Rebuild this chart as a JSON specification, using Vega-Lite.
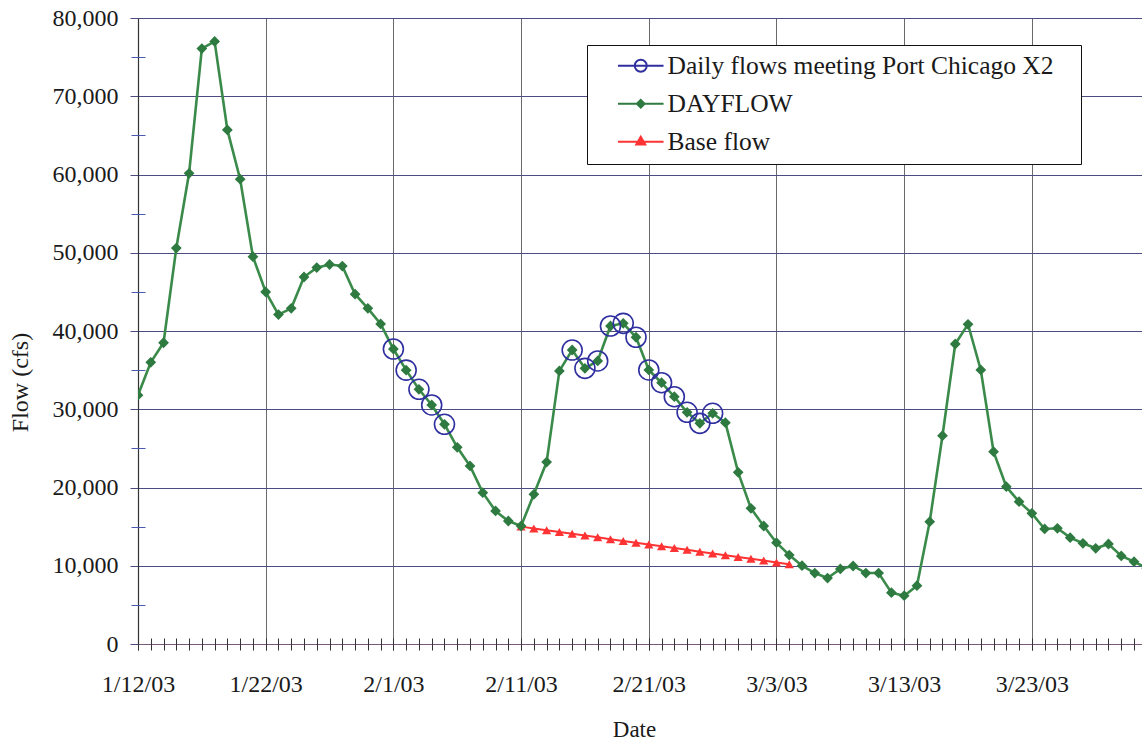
{
  "$schema": "https://vega.github.io/schema/vega-lite/v6.json",
  "width": 1004,
  "height": 626,
  "autosize": {"type": "none"},
  "padding": {"left": 138, "top": 18, "right": 0, "bottom": 96},
  "background": "white",
  "config": {
    "view": {"stroke": null},
    "font": "Liberation Serif",
    "axis": {
      "labelFont": "Liberation Serif",
      "labelFontSize": 24,
      "labelColor": "#1a1a1a",
      "titleFont": "Liberation Serif",
      "titleFontSize": 24,
      "titleFontWeight": "normal",
      "titleColor": "#1a1a1a",
      "labelFlush": false,
      "labelOverlap": false
    },
    "legend": {
      "orient": "none",
      "legendX": 449,
      "legendY": 27,
      "direction": "vertical",
      "fillColor": "white",
      "strokeColor": "#111111",
      "padding": 8,
      "rowPadding": 11,
      "symbolSize": 144,
      "symbolStrokeWidth": 2,
      "symbolOpacity": 1,
      "symbolOffset": 33,
      "labelOffset": 14,
      "labelFont": "Liberation Serif",
      "labelFontSize": 25.5,
      "labelColor": "#1a1a1a",
      "labelLimit": 600
    }
  },
  "datasets": {
    "flows": [
      {"d": "2003-01-12", "v": 31800, "s": "DAYFLOW"},
      {"d": "2003-01-13", "v": 36000, "s": "DAYFLOW"},
      {"d": "2003-01-14", "v": 38500, "s": "DAYFLOW"},
      {"d": "2003-01-15", "v": 50600, "s": "DAYFLOW"},
      {"d": "2003-01-16", "v": 60150, "s": "DAYFLOW"},
      {"d": "2003-01-17", "v": 76100, "s": "DAYFLOW"},
      {"d": "2003-01-18", "v": 77000, "s": "DAYFLOW"},
      {"d": "2003-01-19", "v": 65700, "s": "DAYFLOW"},
      {"d": "2003-01-20", "v": 59400, "s": "DAYFLOW"},
      {"d": "2003-01-21", "v": 49500, "s": "DAYFLOW"},
      {"d": "2003-01-22", "v": 45000, "s": "DAYFLOW"},
      {"d": "2003-01-23", "v": 42100, "s": "DAYFLOW"},
      {"d": "2003-01-24", "v": 42900, "s": "DAYFLOW"},
      {"d": "2003-01-25", "v": 46900, "s": "DAYFLOW"},
      {"d": "2003-01-26", "v": 48100, "s": "DAYFLOW"},
      {"d": "2003-01-27", "v": 48500, "s": "DAYFLOW"},
      {"d": "2003-01-28", "v": 48300, "s": "DAYFLOW"},
      {"d": "2003-01-29", "v": 44700, "s": "DAYFLOW"},
      {"d": "2003-01-30", "v": 42900, "s": "DAYFLOW"},
      {"d": "2003-01-31", "v": 40900, "s": "DAYFLOW"},
      {"d": "2003-02-01", "v": 37700, "s": "DAYFLOW"},
      {"d": "2003-02-02", "v": 35000, "s": "DAYFLOW"},
      {"d": "2003-02-03", "v": 32550, "s": "DAYFLOW"},
      {"d": "2003-02-04", "v": 30550, "s": "DAYFLOW"},
      {"d": "2003-02-05", "v": 28080, "s": "DAYFLOW"},
      {"d": "2003-02-06", "v": 25140, "s": "DAYFLOW"},
      {"d": "2003-02-07", "v": 22750, "s": "DAYFLOW"},
      {"d": "2003-02-08", "v": 19340, "s": "DAYFLOW"},
      {"d": "2003-02-09", "v": 17000, "s": "DAYFLOW"},
      {"d": "2003-02-10", "v": 15720, "s": "DAYFLOW"},
      {"d": "2003-02-11", "v": 15080, "s": "DAYFLOW"},
      {"d": "2003-02-12", "v": 19130, "s": "DAYFLOW"},
      {"d": "2003-02-13", "v": 23250, "s": "DAYFLOW"},
      {"d": "2003-02-14", "v": 34900, "s": "DAYFLOW"},
      {"d": "2003-02-15", "v": 37570, "s": "DAYFLOW"},
      {"d": "2003-02-16", "v": 35230, "s": "DAYFLOW"},
      {"d": "2003-02-17", "v": 36170, "s": "DAYFLOW"},
      {"d": "2003-02-18", "v": 40640, "s": "DAYFLOW"},
      {"d": "2003-02-19", "v": 40980, "s": "DAYFLOW"},
      {"d": "2003-02-20", "v": 39200, "s": "DAYFLOW"},
      {"d": "2003-02-21", "v": 35020, "s": "DAYFLOW"},
      {"d": "2003-02-22", "v": 33390, "s": "DAYFLOW"},
      {"d": "2003-02-23", "v": 31600, "s": "DAYFLOW"},
      {"d": "2003-02-24", "v": 29610, "s": "DAYFLOW"},
      {"d": "2003-02-25", "v": 28200, "s": "DAYFLOW"},
      {"d": "2003-02-26", "v": 29480, "s": "DAYFLOW"},
      {"d": "2003-02-27", "v": 28290, "s": "DAYFLOW"},
      {"d": "2003-02-28", "v": 21940, "s": "DAYFLOW"},
      {"d": "2003-03-01", "v": 17340, "s": "DAYFLOW"},
      {"d": "2003-03-02", "v": 15080, "s": "DAYFLOW"},
      {"d": "2003-03-03", "v": 12950, "s": "DAYFLOW"},
      {"d": "2003-03-04", "v": 11370, "s": "DAYFLOW"},
      {"d": "2003-03-05", "v": 10010, "s": "DAYFLOW"},
      {"d": "2003-03-06", "v": 9070, "s": "DAYFLOW"},
      {"d": "2003-03-07", "v": 8430, "s": "DAYFLOW"},
      {"d": "2003-03-08", "v": 9590, "s": "DAYFLOW"},
      {"d": "2003-03-09", "v": 9970, "s": "DAYFLOW"},
      {"d": "2003-03-10", "v": 9070, "s": "DAYFLOW"},
      {"d": "2003-03-11", "v": 9070, "s": "DAYFLOW"},
      {"d": "2003-03-12", "v": 6560, "s": "DAYFLOW"},
      {"d": "2003-03-13", "v": 6170, "s": "DAYFLOW"},
      {"d": "2003-03-14", "v": 7450, "s": "DAYFLOW"},
      {"d": "2003-03-15", "v": 15630, "s": "DAYFLOW"},
      {"d": "2003-03-16", "v": 26620, "s": "DAYFLOW"},
      {"d": "2003-03-17", "v": 38340, "s": "DAYFLOW"},
      {"d": "2003-03-18", "v": 40860, "s": "DAYFLOW"},
      {"d": "2003-03-19", "v": 35020, "s": "DAYFLOW"},
      {"d": "2003-03-20", "v": 24580, "s": "DAYFLOW"},
      {"d": "2003-03-21", "v": 20100, "s": "DAYFLOW"},
      {"d": "2003-03-22", "v": 18190, "s": "DAYFLOW"},
      {"d": "2003-03-23", "v": 16700, "s": "DAYFLOW"},
      {"d": "2003-03-24", "v": 14700, "s": "DAYFLOW"},
      {"d": "2003-03-25", "v": 14790, "s": "DAYFLOW"},
      {"d": "2003-03-26", "v": 13590, "s": "DAYFLOW"},
      {"d": "2003-03-27", "v": 12870, "s": "DAYFLOW"},
      {"d": "2003-03-28", "v": 12230, "s": "DAYFLOW"},
      {"d": "2003-03-29", "v": 12780, "s": "DAYFLOW"},
      {"d": "2003-03-30", "v": 11250, "s": "DAYFLOW"},
      {"d": "2003-03-31", "v": 10520, "s": "DAYFLOW"},
      {"d": "2003-04-01", "v": 9670, "s": "DAYFLOW"},
      {"d": "2003-02-11", "v": 15000, "s": "Base flow"},
      {"d": "2003-02-12", "v": 14770, "s": "Base flow"},
      {"d": "2003-02-13", "v": 14540, "s": "Base flow"},
      {"d": "2003-02-14", "v": 14310, "s": "Base flow"},
      {"d": "2003-02-15", "v": 14090, "s": "Base flow"},
      {"d": "2003-02-16", "v": 13860, "s": "Base flow"},
      {"d": "2003-02-17", "v": 13630, "s": "Base flow"},
      {"d": "2003-02-18", "v": 13400, "s": "Base flow"},
      {"d": "2003-02-19", "v": 13170, "s": "Base flow"},
      {"d": "2003-02-20", "v": 12940, "s": "Base flow"},
      {"d": "2003-02-21", "v": 12710, "s": "Base flow"},
      {"d": "2003-02-22", "v": 12490, "s": "Base flow"},
      {"d": "2003-02-23", "v": 12260, "s": "Base flow"},
      {"d": "2003-02-24", "v": 12030, "s": "Base flow"},
      {"d": "2003-02-25", "v": 11800, "s": "Base flow"},
      {"d": "2003-02-26", "v": 11570, "s": "Base flow"},
      {"d": "2003-02-27", "v": 11340, "s": "Base flow"},
      {"d": "2003-02-28", "v": 11110, "s": "Base flow"},
      {"d": "2003-03-01", "v": 10890, "s": "Base flow"},
      {"d": "2003-03-02", "v": 10660, "s": "Base flow"},
      {"d": "2003-03-03", "v": 10430, "s": "Base flow"},
      {"d": "2003-03-04", "v": 10200, "s": "Base flow"},
      {"d": "2003-02-01", "v": 37700, "s": "Daily flows meeting Port Chicago X2"},
      {"d": "2003-02-02", "v": 35000, "s": "Daily flows meeting Port Chicago X2"},
      {"d": "2003-02-03", "v": 32550, "s": "Daily flows meeting Port Chicago X2"},
      {"d": "2003-02-04", "v": 30550, "s": "Daily flows meeting Port Chicago X2"},
      {"d": "2003-02-05", "v": 28080, "s": "Daily flows meeting Port Chicago X2"},
      {"d": "2003-02-15", "v": 37570, "s": "Daily flows meeting Port Chicago X2"},
      {"d": "2003-02-16", "v": 35230, "s": "Daily flows meeting Port Chicago X2"},
      {"d": "2003-02-17", "v": 36170, "s": "Daily flows meeting Port Chicago X2"},
      {"d": "2003-02-18", "v": 40640, "s": "Daily flows meeting Port Chicago X2"},
      {"d": "2003-02-19", "v": 40980, "s": "Daily flows meeting Port Chicago X2"},
      {"d": "2003-02-20", "v": 39200, "s": "Daily flows meeting Port Chicago X2"},
      {"d": "2003-02-21", "v": 35020, "s": "Daily flows meeting Port Chicago X2"},
      {"d": "2003-02-22", "v": 33390, "s": "Daily flows meeting Port Chicago X2"},
      {"d": "2003-02-23", "v": 31600, "s": "Daily flows meeting Port Chicago X2"},
      {"d": "2003-02-24", "v": 29610, "s": "Daily flows meeting Port Chicago X2"},
      {"d": "2003-02-25", "v": 28200, "s": "Daily flows meeting Port Chicago X2"},
      {"d": "2003-02-26", "v": 29480, "s": "Daily flows meeting Port Chicago X2"}
    ]
  },
  "data": {"name": "flows"},
  "layer": [
    {
      "mark": {"type": "point", "opacity": 0, "size": 1, "clip": true},
      "encoding": {
        "x": {
          "field": "d", "type": "temporal",
          "scale": {"type": "utc", "domain": [{"year": 2003, "month": 1, "date": 12, "utc": true}, {"year": 2003, "month": 3, "date": 31, "hours": 15, "utc": true}]},
          "axis": null
        },
        "y": {
          "field": "v", "type": "quantitative",
          "scale": {"domain": [0, 80000], "nice": false, "zero": true},
          "axis": null
        },
        "stroke": {
          "field": "s", "type": "nominal",
          "scale": {"domain": ["Daily flows meeting Port Chicago X2", "DAYFLOW", "Base flow"], "range": ["#2f2fa0", "#2e7a40", "#ff3333"]},
          "legend": {"title": null, "labelExpr": "datum.label + '\u00a0\u00a0\u00a0\u200b'"}
        },
        "fill": {
          "field": "s", "type": "nominal",
          "scale": {"domain": ["Daily flows meeting Port Chicago X2", "DAYFLOW", "Base flow"], "range": ["transparent", "#2e7a40", "#ff3333"]},
          "legend": {"title": null, "labelExpr": "datum.label + '\u00a0\u00a0\u00a0\u200b'"}
        },
        "shape": {
          "field": "s", "type": "nominal",
          "scale": {
            "domain": ["Daily flows meeting Port Chicago X2", "DAYFLOW", "Base flow"],
            "range": [
              "M-3.8,0H3.8M-1,0A1,1 0 1,0 1,0A1,1 0 1,0 -1,0",
              "M-3.8,0H3.8M0,-0.65L0.65,0L0,0.65L-0.65,0Z",
              "M-3.8,0H3.8M0,-0.85L0.75,0.45L-0.75,0.45Z"
            ]
          },
          "legend": {"title": null, "labelExpr": "datum.label + '\u00a0\u00a0\u00a0\u200b'"}
        }
      }
    },
    {
      "transform": [{"filter": "datum.s === 'DAYFLOW'"}],
      "mark": {"type": "line", "color": "#3a8a4a", "strokeWidth": 2.6, "clip": true},
      "encoding": {
        "x": {
          "field": "d", "type": "temporal",
          "axis": {
            "orient": "bottom",
            "title": "Date",
            "titleX": 496,
            "titleY": 92,
            "titleFontSize": 23,
            "titleBaseline": "alphabetic",
            "titleAnchor": null,
            "titleAlign": "center",
            "format": "%-m/%-d/%y",
            "values": [
              {"year": 2003, "month": 1, "date": 12, "utc": true},
              {"year": 2003, "month": 1, "date": 22, "utc": true},
              {"year": 2003, "month": 2, "date": 1, "utc": true},
              {"year": 2003, "month": 2, "date": 11, "utc": true},
              {"year": 2003, "month": 2, "date": 21, "utc": true},
              {"year": 2003, "month": 3, "date": 3, "utc": true},
              {"year": 2003, "month": 3, "date": 13, "utc": true},
              {"year": 2003, "month": 3, "date": 23, "utc": true}
            ],
            "grid": true,
            "gridColor": "#6a6a6a",
            "gridWidth": 1,
            "gridOpacity": 1,
            "domain": true,
            "domainColor": "#7a5a7a",
            "domainWidth": 1.2,
            "ticks": true,
            "tickSize": 6,
            "tickColor": "#444",
            "labelPadding": 22
          }
        },
        "y": {
          "field": "v", "type": "quantitative",
          "axis": {
            "orient": "left",
            "title": "Flow (cfs)",
            "titleX": -118,
            "titleY": 364,
            "titleAngle": 270,
            "titleAlign": "center",
            "titleBaseline": "middle",
            "titleAnchor": null,
            "values": [0, 10000, 20000, 30000, 40000, 50000, 60000, 70000, 80000],
            "labelExpr": "format(datum.value, ',.0f')",
            "grid": true,
            "gridColor": "#4c4c82",
            "gridWidth": 1,
            "gridOpacity": 1,
            "domain": true,
            "domainColor": "#333",
            "domainWidth": 1.2,
            "tickSize": 8,
            "tickColor": "#4c4c82",
            "labelPadding": 12
          }
        }
      }
    },
    {
      "transform": [{"filter": "datum.s === 'Base flow'"}],
      "mark": {"type": "line", "color": "#ff3333", "strokeWidth": 2, "clip": true},
      "encoding": {
        "x": {
          "field": "d", "type": "temporal",
          "axis": {
            "orient": "bottom",
            "title": null,
            "labels": false,
            "grid": false,
            "domain": false,
            "tickCount": {"interval": "day", "step": 1},
            "offset": -6,
            "tickSize": 12,
            "tickColor": "#333",
            "tickWidth": 1
          }
        },
        "y": {
          "field": "v", "type": "quantitative",
          "axis": {
            "orient": "left",
            "title": null,
            "labels": false,
            "grid": false,
            "domain": false,
            "values": [5000, 15000, 25000, 35000, 45000, 55000, 65000, 75000],
            "offset": -7,
            "tickSize": 14,
            "tickColor": "#4a5ab0",
            "tickWidth": 1
          }
        }
      }
    },
    {
      "transform": [{"filter": "datum.s === 'Base flow'"}],
      "mark": {"type": "point", "shape": "triangle-up", "filled": true, "color": "#ff3333", "size": 85, "opacity": 1, "clip": true},
      "encoding": {
        "x": {"field": "d", "type": "temporal", "axis": null},
        "y": {"field": "v", "type": "quantitative", "axis": null}
      }
    },
    {
      "transform": [{"filter": "datum.s === 'DAYFLOW'"}],
      "mark": {"type": "point", "shape": "diamond", "filled": true, "fill": "#2e7a40", "stroke": "#2e7a40", "size": 75, "strokeWidth": 1.5, "opacity": 1, "clip": true},
      "encoding": {
        "x": {"field": "d", "type": "temporal", "axis": null},
        "y": {"field": "v", "type": "quantitative", "axis": null}
      }
    },
    {
      "transform": [{"filter": "datum.s === 'Daily flows meeting Port Chicago X2'"}],
      "mark": {"type": "point", "shape": "circle", "filled": false, "fill": "transparent", "stroke": "#2f2fa0", "size": 400, "strokeWidth": 1.6, "opacity": 1, "clip": true},
      "encoding": {
        "x": {"field": "d", "type": "temporal", "axis": null},
        "y": {"field": "v", "type": "quantitative", "axis": null}
      }
    }
  ],
  "resolve": {"axis": {"x": "independent", "y": "independent"}}
}
